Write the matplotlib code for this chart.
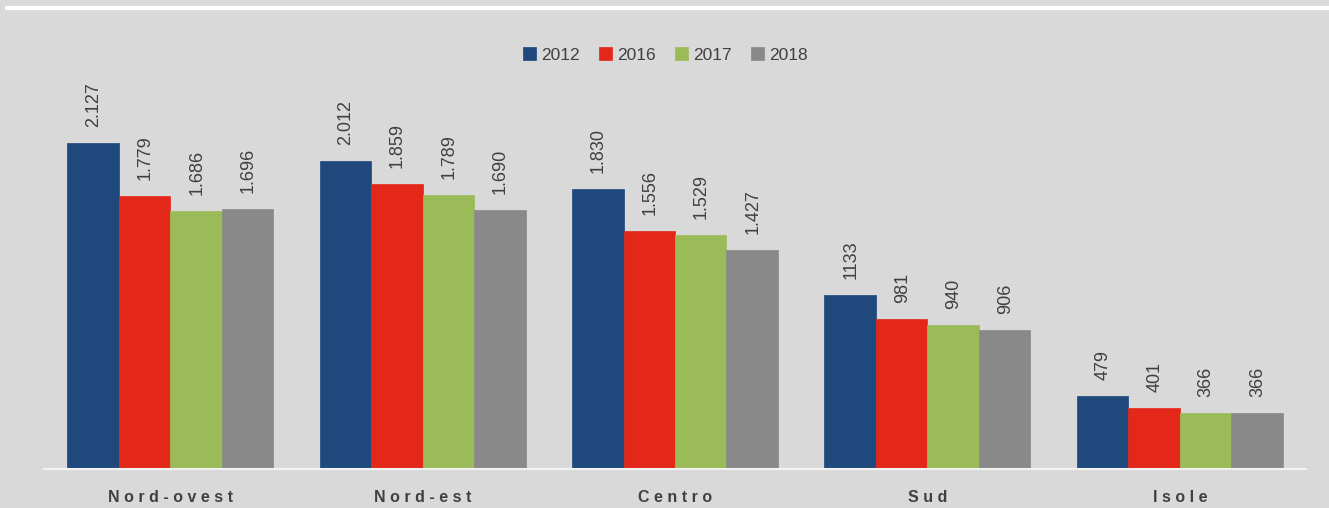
import matplotlib
matplotlib.use("Agg")
import matplotlib.pyplot as plt
import numpy as np

plt.rcParams["font.family"] = ["Liberation Sans", "DejaVu Sans"]

regions = ["Nord-ovest", "Nord-est", "Centro", "Sud", "Isole"]
years = ["2012", "2016", "2017", "2018"]
values = {
    "2012": [2127, 2012, 1830, 1133, 479],
    "2016": [1779, 1859, 1556, 981, 401],
    "2017": [1686, 1789, 1529, 940, 366],
    "2018": [1696, 1690, 1427, 906, 366],
}
labels = {
    "2012": ["2.127", "2.012", "1.830", "1133", "479"],
    "2016": ["1.779", "1.859", "1.556", "981", "401"],
    "2017": ["1.686", "1.789", "1.529", "940", "366"],
    "2018": ["1.696", "1.690", "1.427", "906", "366"],
}
colors = ["#1f497d", "#e3281a", "#9bbb59", "#898989"]

BG = "#d9d9d9"
TXT = "#404040"

W, H = 1329, 508
fig = plt.figure(figsize=(W / 100, H / 100), dpi=100, facecolor=BG)
ax = fig.add_axes([44 / W, (H - 469) / H, (1306 - 44) / W, (469 - 30) / H])
ax.set_facecolor(BG)

# white rule along the top
fig.add_artist(plt.Line2D([7 / W, 1.0], [(H - 8) / H] * 2, color="white", lw=3,
                          transform=fig.transFigure))

x = np.arange(len(regions))
bw = 0.204
for i, (yr, c) in enumerate(zip(years, colors)):
    pos = x + (i - 1.5) * bw
    ax.bar(pos, values[yr], width=bw, color=c, edgecolor=c, linewidth=0.5,
           label=yr, zorder=2)
    for p, v, lab in zip(pos, values[yr], labels[yr]):
        ax.annotate(lab, (p, v), xytext=(0.5, 11.5), textcoords="offset points",
                    rotation=90, ha="center", va="bottom", fontsize=13, color=TXT)

ax.set_xlim(-0.5, len(regions) - 0.5)
ax.set_ylim(0, 439 / (326 / 2127))
ax.set_yticks([])
ax.set_xticks(x)
ax.set_xticklabels([" ".join(r) for r in regions], fontsize=11.5, fontweight="bold",
                   color=TXT)
ax.tick_params(axis="x", length=0, pad=15)
for s in ["top", "right", "left"]:
    ax.spines[s].set_visible(False)
ax.spines["bottom"].set_color("#f2f2f2")
ax.spines["bottom"].set_linewidth(1.5)

fig.legend(loc="center", bbox_to_anchor=(665 / W, (H - 55) / H), ncol=4,
           frameon=False, fontsize=12.5, handlelength=0.75, handleheight=0.75,
           handletextpad=0.3, columnspacing=1.1, labelcolor=TXT)

fig.savefig("out.png", dpi=100, facecolor=BG)
